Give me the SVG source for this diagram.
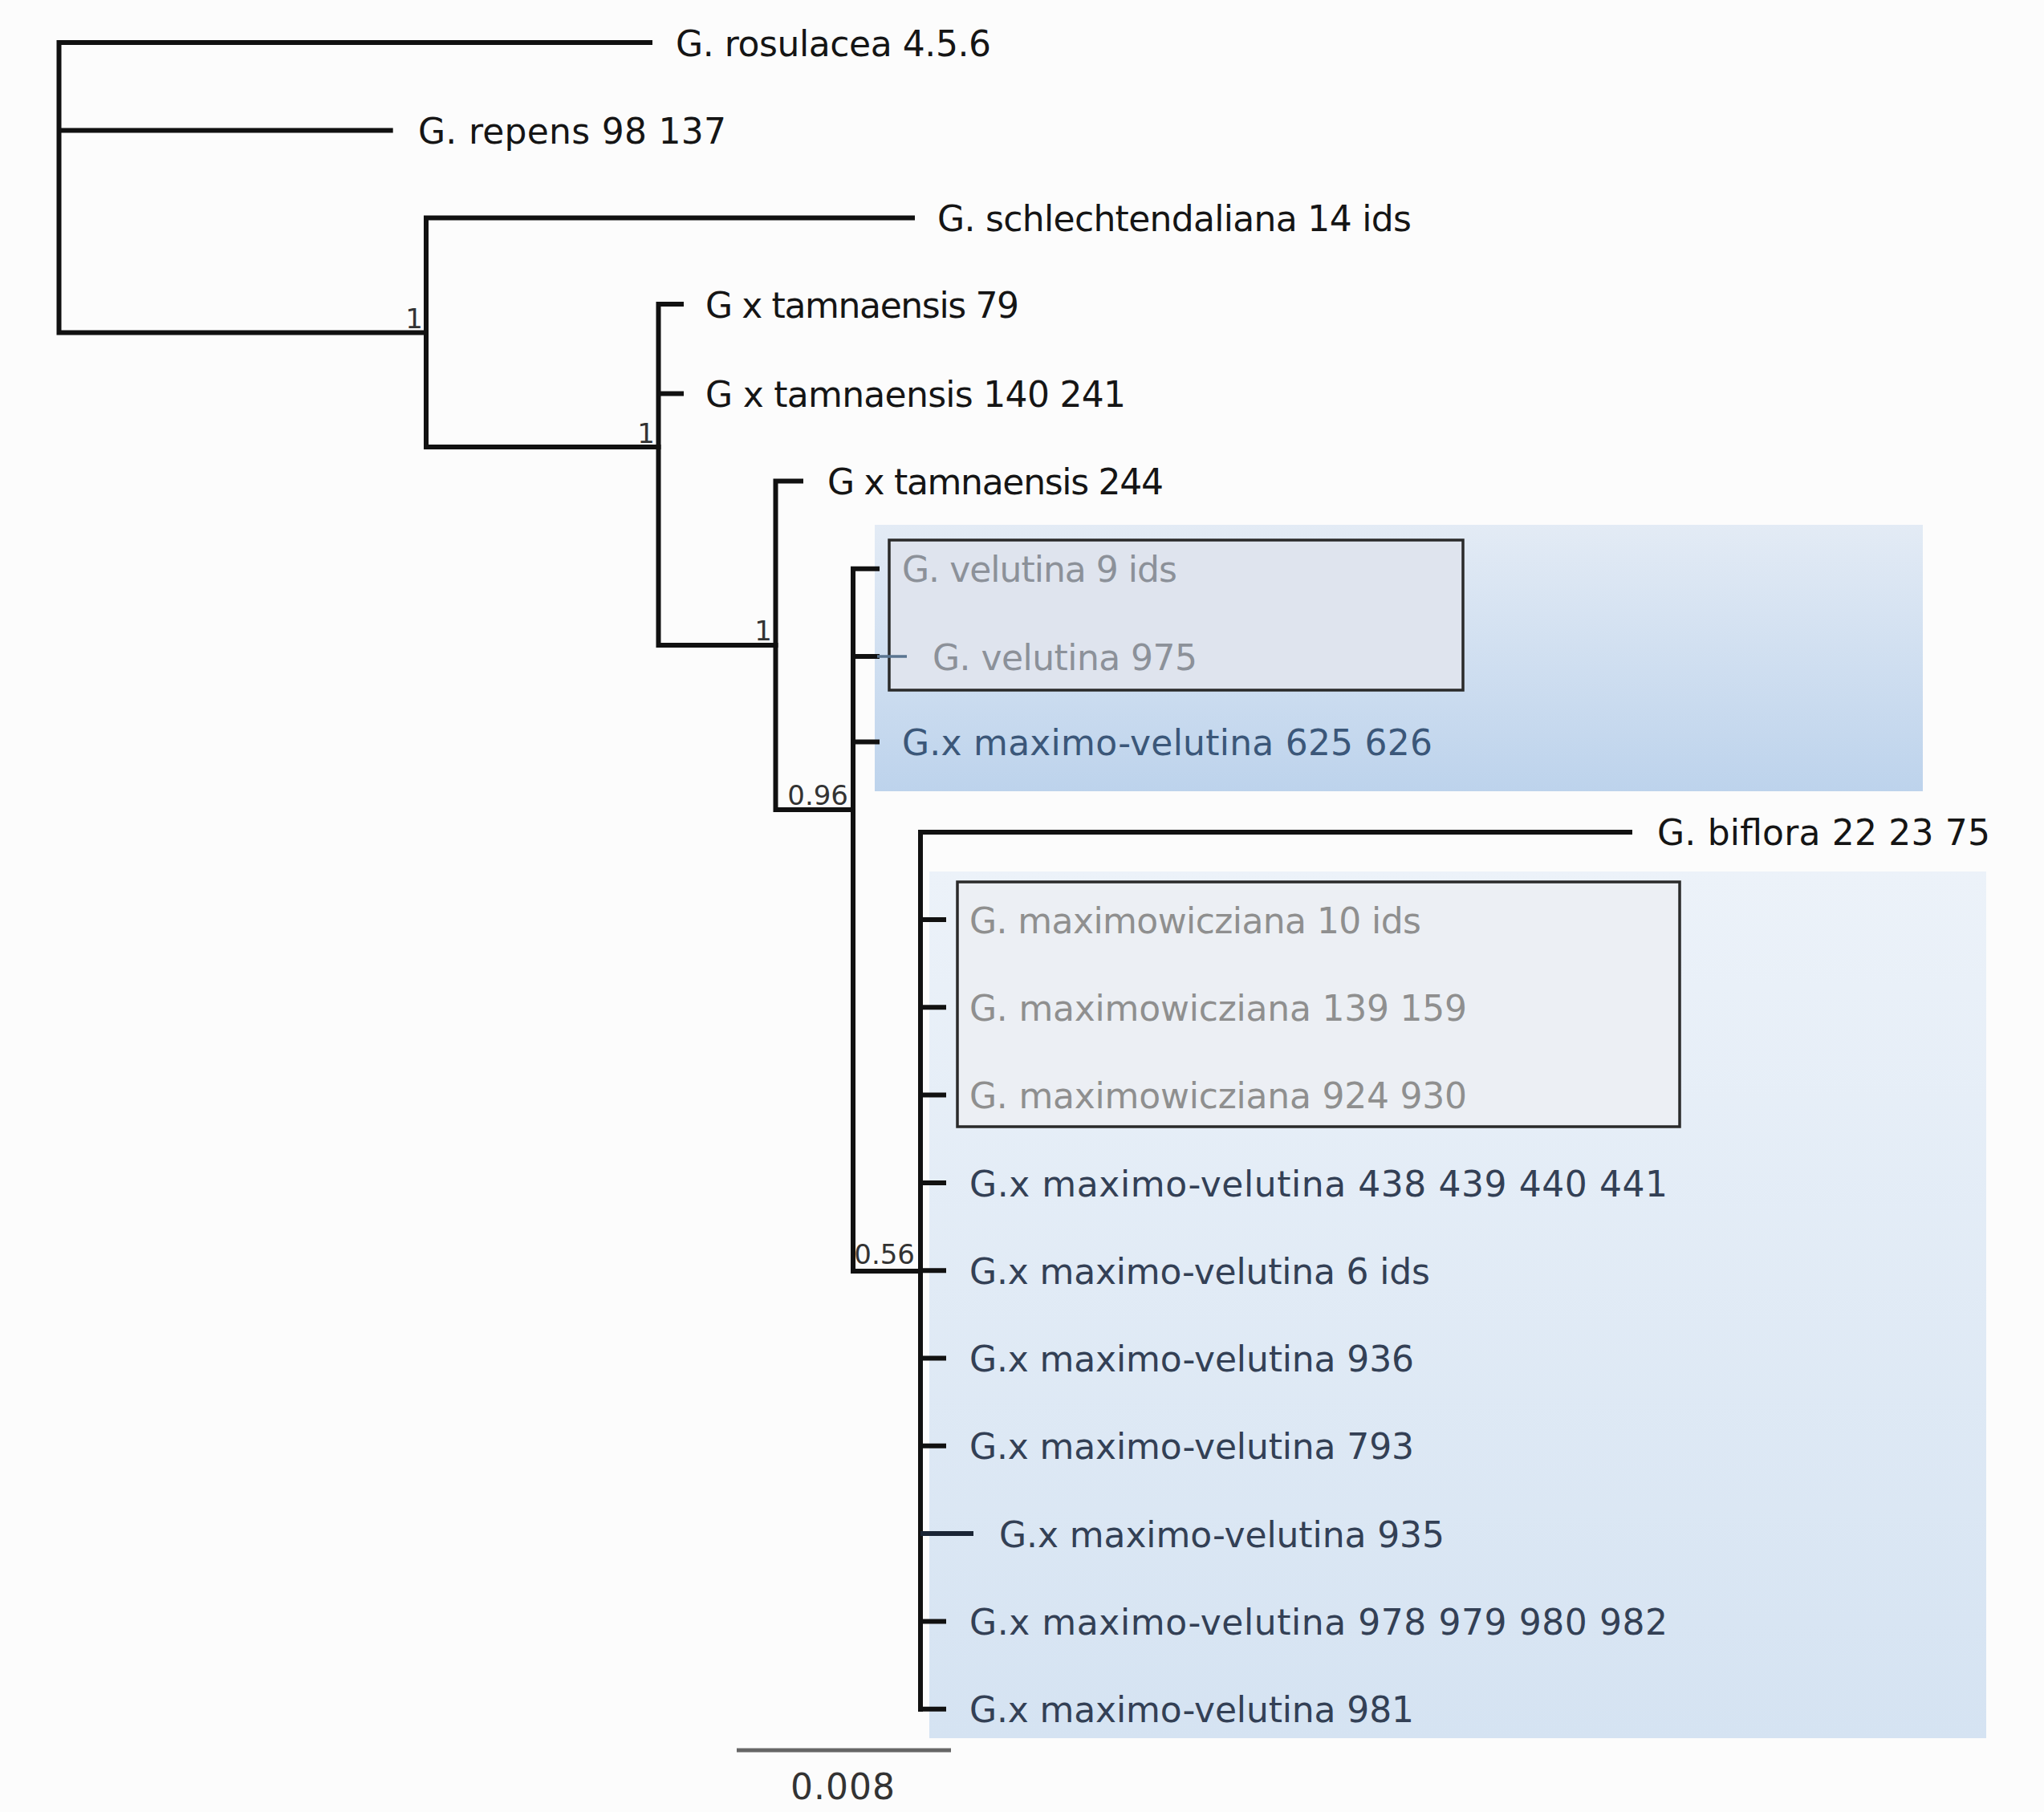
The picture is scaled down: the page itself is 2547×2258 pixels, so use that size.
<svg xmlns="http://www.w3.org/2000/svg" width="2547" height="2258" viewBox="0 0 2547 2258">
<style>
.br{stroke:#111;stroke-width:6;fill:none;stroke-linecap:square}
.lbl{font-family:"DejaVu Sans","Liberation Sans",sans-serif;font-size:44px}
.blk{fill:#151515}
.gry{fill:#8c9199}
.gry2{fill:#8f8f8f}
.hyb{fill:#334055}
.hyb1{fill:#3b5779}
.sup{font-family:"DejaVu Sans","Liberation Sans",sans-serif;font-size:34px;fill:#333;text-anchor:end}
.frame{stroke:#2a2a2a;stroke-width:3.5}
</style>
<defs>
<linearGradient id="g1" x1="0" y1="0" x2="0" y2="1">
<stop offset="0" stop-color="#e3ebf5"/>
<stop offset="1" stop-color="#bdd3ec"/>
</linearGradient>
<linearGradient id="g2" x1="0" y1="0" x2="0" y2="1">
<stop offset="0" stop-color="#ecf2f9"/>
<stop offset="1" stop-color="#d5e3f2"/>
</linearGradient>
</defs>
<rect x="0" y="0" width="2547" height="2258" fill="#fcfcfc"/>

<g id="highlights">
<rect x="1090" y="654" width="1306" height="332" fill="url(#g1)"/>
<rect class="frame" x="1108" y="673" width="715" height="187" fill="#dfe4ee"/>
<rect x="1158" y="1086" width="1317" height="1080" fill="url(#g2)"/>
<rect class="frame" x="1193" y="1099" width="900" height="305" fill="#eceff4"/>
</g>

<g id="connectors">
<path class="br" d="M73.5,53 H810 M73.5,53 V414.4 M73.5,162.4 H486.7 M73.5,414.4 H531"/>
<path class="br" d="M531,271.6 V557 M531,271.6 H1137 M531,557 H820.5"/>
<path class="br" d="M820.5,379 V804 M820.5,379 H849 M820.5,490.4 H849 M820.5,804 H966.5"/>
<path class="br" d="M966.5,599.5 V1009 M966.5,599.5 H998 M966.5,1009 H1063"/>
<path class="br" d="M1063,708.8 V1584 M1063,708.8 H1093 M1063,818 H1093 M1063,924.5 H1093 M1063,1584 H1147"/>
<path d="M1093,818 H1130" stroke="#5a7590" stroke-width="3.5" fill="none"/>
<path class="br" d="M1147,1037 V2130 M1147,1037 H2031 M1147,1146 H1176 M1147,1255.3 H1176 M1147,1364.6 H1176 M1147,1473.9 H1176 M1147,1583.2 H1176 M1147,1692.5 H1176 M1147,1801.8 H1176 M1147,2020.4 H1176 M1147,2129.7 H1176"/>
<path d="M1147,1911.1 H1213" stroke="#1a2535" stroke-width="6" fill="none"/>
</g>

<g id="support">
<g id="s-root"><text class="sup" x="527" y="409">1</text></g>
<g id="s-n2"><text class="sup" x="816" y="552">1</text></g>
<g id="s-n3"><text class="sup" x="962" y="798">1</text></g>
<g id="s-n4"><text class="sup" x="1057" y="1003">0.96</text></g>
<g id="s-n5"><text class="sup" x="1140" y="1575">0.56</text></g>
</g>

<g id="n-rosulacea"><text class="lbl blk" x="842" y="69.6" textLength="393" lengthAdjust="spacing">G. rosulacea 4.5.6</text></g>
<g id="n-repens"><text class="lbl blk" x="521" y="179" textLength="384" lengthAdjust="spacing">G. repens 98 137</text></g>
<g id="n-schlecht"><text class="lbl blk" x="1168" y="288.2" textLength="591" lengthAdjust="spacing">G. schlechtendaliana 14 ids</text></g>
<g id="n-tam79"><text class="lbl blk" x="879" y="395.6" textLength="391" lengthAdjust="spacing">G x tamnaensis 79</text></g>
<g id="n-tam140"><text class="lbl blk" x="879" y="507" textLength="524" lengthAdjust="spacing">G x tamnaensis 140 241</text></g>
<g id="n-tam244"><text class="lbl blk" x="1031" y="616.1" textLength="419" lengthAdjust="spacing">G x tamnaensis 244</text></g>
<g id="n-vel9"><text class="lbl gry" x="1124" y="725.4" textLength="343" lengthAdjust="spacing">G. velutina 9 ids</text></g>
<g id="n-vel975"><text class="lbl gry" x="1162" y="834.6" textLength="330" lengthAdjust="spacing">G. velutina 975</text></g>
<g id="n-mv625"><text class="lbl hyb1" x="1124" y="941" textLength="661" lengthAdjust="spacing">G.x maximo-velutina 625 626</text></g>
<g id="n-biflora"><text class="lbl blk" x="2065" y="1053.3" textLength="415" lengthAdjust="spacing">G. biflora 22 23 75</text></g>
<g id="n-max10"><text class="lbl gry2" x="1208" y="1162.6" textLength="563" lengthAdjust="spacing">G. maximowicziana 10 ids</text></g>
<g id="n-max139"><text class="lbl gry2" x="1208" y="1271.9" textLength="620" lengthAdjust="spacing">G. maximowicziana 139 159</text></g>
<g id="n-max924"><text class="lbl gry2" x="1208" y="1381.2" textLength="620" lengthAdjust="spacing">G. maximowicziana 924 930</text></g>
<g id="n-mv438"><text class="lbl hyb" x="1208" y="1490.5" textLength="870" lengthAdjust="spacing">G.x maximo-velutina 438 439 440 441</text></g>
<g id="n-mv6"><text class="lbl hyb" x="1208" y="1599.8" textLength="574" lengthAdjust="spacing">G.x maximo-velutina 6 ids</text></g>
<g id="n-mv936"><text class="lbl hyb" x="1208" y="1709.1" textLength="554" lengthAdjust="spacing">G.x maximo-velutina 936</text></g>
<g id="n-mv793"><text class="lbl hyb" x="1208" y="1818.4" textLength="554" lengthAdjust="spacing">G.x maximo-velutina 793</text></g>
<g id="n-mv935"><text class="lbl hyb" x="1245" y="1927.7" textLength="555" lengthAdjust="spacing">G.x maximo-velutina 935</text></g>
<g id="n-mv978"><text class="lbl hyb" x="1208" y="2037" textLength="870" lengthAdjust="spacing">G.x maximo-velutina 978 979 980 982</text></g>
<g id="n-mv981"><text class="lbl hyb" x="1208" y="2146.3" textLength="554" lengthAdjust="spacing">G.x maximo-velutina 981</text></g>

<g id="scale">
<line x1="918" y1="2181" x2="1185" y2="2181" stroke="#666" stroke-width="5"/>
<text class="lbl" x="1050" y="2242" text-anchor="middle" fill="#333" textLength="130" lengthAdjust="spacing">0.008</text>
</g>
</svg>
